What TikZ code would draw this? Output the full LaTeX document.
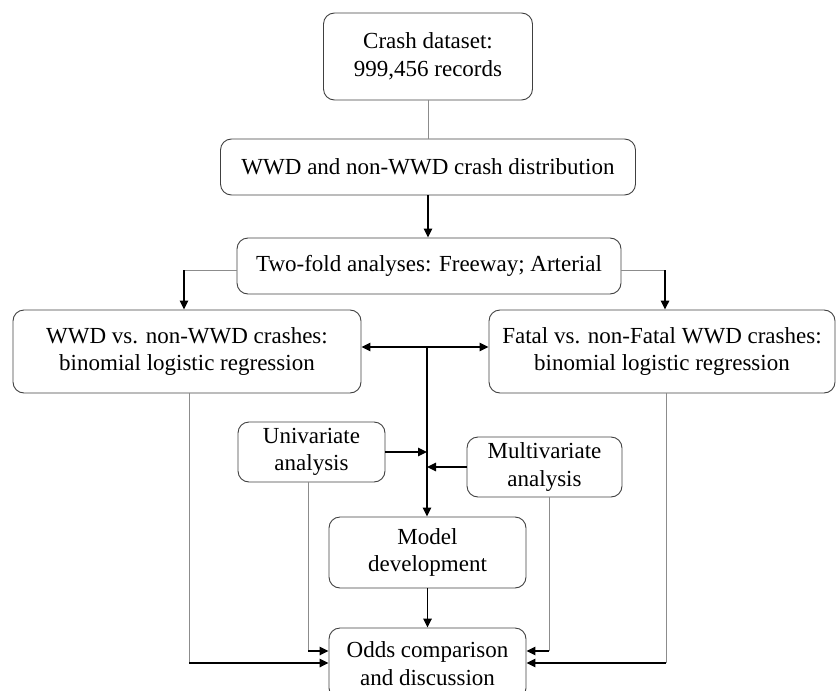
\documentclass[tikz,border=0pt]{standalone}
\usepackage{fontspec}
\setmainfont{Liberation Serif}
\usetikzlibrary{arrows.meta}
\begin{document}
\begin{tikzpicture}[x=1pt, y=-1pt,
  box/.style={draw=black!75, line width=0.9pt, rounded corners=11pt, align=center, inner sep=0pt, font=\fontsize{23}{27.5}\selectfont},
  arr/.style={line width=1.5pt, -{Triangle[length=9pt, width=8.5pt]}},
  both/.style={line width=1.5pt, {Triangle[length=9pt, width=8.5pt]}-{Triangle[length=9pt, width=8.5pt]}},
  link/.style={draw=black!45, line width=0.9pt}]
\clip (0,0) rectangle (837,690);

\node[box, minimum width=209, minimum height=87] (crash) at (428, 56.5) {Crash dataset:\\999,456 records};
\node[box, minimum width=415, minimum height=56] (dist) at (428, 167) {WWD and non-WWD crash distribution};
\node[box, minimum width=384, minimum height=56] (twofold) at (429, 266) {Two-fold analyses: Freeway; Arterial};
\node[box, minimum width=348, minimum height=83] (wwd) at (187, 351.5) {WWD vs. non-WWD crashes:\\binomial logistic regression};
\node[box, minimum width=346, minimum height=83] (fatal) at (662, 351.5) {Fatal vs. non-Fatal WWD crashes:\\binomial logistic regression};
\node[box, minimum width=147, minimum height=60] (uni) at (311.5, 452) {Univariate\\analysis};
\node[box, minimum width=155, minimum height=60] (multi) at (544.5, 467) {Multivariate\\analysis};
\node[box, minimum width=197, minimum height=71] (model) at (427.5, 552.5) {Model\\development};
\node[box, minimum width=197, minimum height=71] (odds) at (427.5, 663.5) {Odds comparison\\and discussion};

\coordinate (lturn) at (184, 270);
\coordinate (rturn) at (665, 270);
\coordinate (hub) at (427, 347);
\coordinate (wwdend) at (189, 663);
\coordinate (uniend) at (308, 651);
\coordinate (multiend) at (549, 651);
\coordinate (fatalend) at (666, 663);

\draw[link] (crash) -- (dist);
\draw[arr] (dist) -- (dist.south |- twofold.north);
\draw[link] (twofold.west |- lturn) -- (lturn);
\draw[arr] (lturn) -- (lturn |- wwd.north);
\draw[link] (twofold.east |- rturn) -- (rturn);
\draw[arr] (rturn) -- (rturn |- fatal.north);
\draw[both] (wwd.east |- hub) -- (fatal.west |- hub);
\draw[arr] (hub) -- (hub |- model.north);
\draw[arr] (uni.east) -- (uni.east -| hub);
\draw[arr] (multi.west) -- (multi.west -| hub);
\draw[arr] (model) -- (odds);
\draw[link] (wwdend |- wwd.south) -- (wwdend);
\draw[arr] (wwdend) -- (wwdend -| odds.west);
\draw[link] (uniend |- uni.south) -- (uniend);
\draw[arr] (uniend) -- (uniend -| odds.west);
\draw[link] (multiend |- multi.south) -- (multiend);
\draw[arr] (multiend) -- (multiend -| odds.east);
\draw[link] (fatalend |- fatal.south) -- (fatalend);
\draw[arr] (fatalend) -- (fatalend -| odds.east);

\end{tikzpicture}
\end{document}
